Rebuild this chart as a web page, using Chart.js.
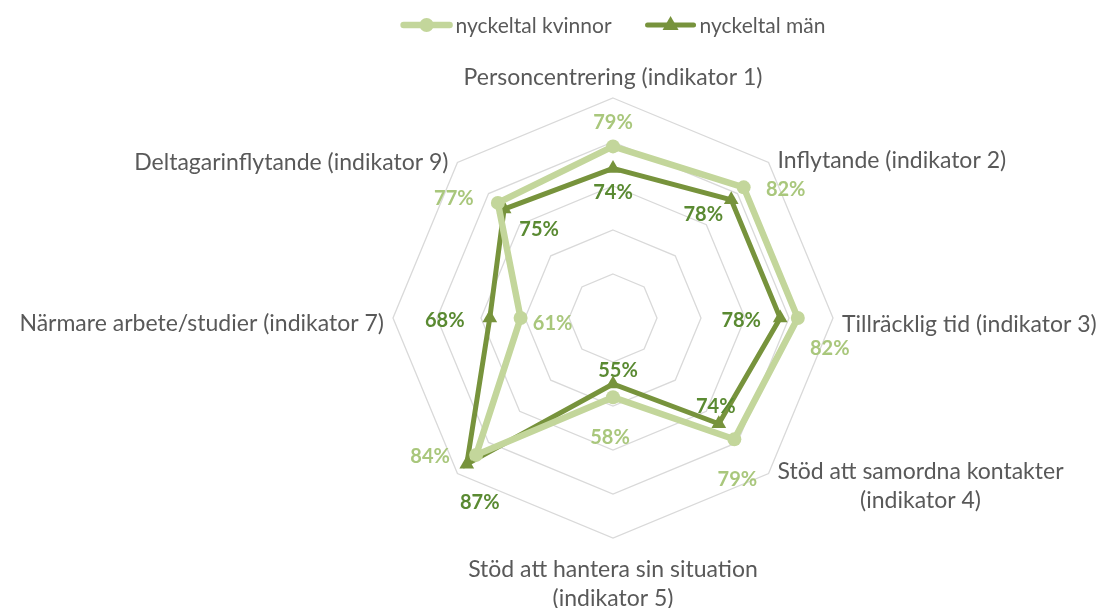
<!DOCTYPE html>
<html>
<head>
<meta charset="utf-8">
<script src="https://cdn.jsdelivr.net/npm/chart.js@4"></script>
<style>
  body { margin: 0; background: #fff; }
  canvas { display: block; }
</style>
</head>
<body>
<canvas id="grafico" width="1102" height="608"></canvas>
<script>
// kategorier (axlar), en axel saknar etikett i originalet
const kategorier = [
  "Personcentrering (indikator 1)",
  "Inflytande (indikator 2)",
  "Tillräcklig tid (indikator 3)",
  ["Stöd att samordna kontakter", "(indikator 4)"],
  ["Stöd att hantera sin situation", "(indikator 5)"],
  "",
  "Närmare arbete/studier (indikator 7)",
  "Deltagarinflytande (indikator 9)"
];
const kvinnor = [79, 82, 82, 79, 58, 84, 61, 77];
const man = [74, 78, 78, 74, 55, 87, 68, 75];
const serieNamn = ["nyckeltal kvinnor", "nyckeltal män"];

// var etiketterna hamnar i förhållande till punkten (px)
const offsetKvinnor = [[0, -24], [42, 2], [32, 31], [3, 40], [-3, 40], [-46, 2], [32, 6], [-44, -4]];
const offsetMan = [[0, 24], [-28, 15], [-39, 3], [-3, -17], [5, -13], [13, 38], [-45, 3], [35, 20]];

const ljusGron = "#c3d69b";
const ljusText = "#a9c77c";
const morkGron = "#77933c";
const morkText = "#5a8a32";

const ctx = document.getElementById("grafico");

// ritar procentetiketter vid punkterna
const etiketter = {
  id: "etiketter",
  afterDatasetsDraw(chart) {
    const c = chart.ctx;
    c.save();
    c.font = "bold 20px Lato";
    c.textAlign = "center";
    c.textBaseline = "middle";
    chart.data.datasets.forEach((ds, i) => {
      const meta = chart.getDatasetMeta(i);
      meta.data.forEach((p, j) => {
        const off = ds.etikettOffset[j];
        c.fillStyle = ds.etikettFarg;
        c.fillText(ds.data[j] + "%", p.x + off[0], p.y + off[1]);
      });
    });
    c.restore();
  }
};

// axeletiketter ritas för hand så att flerradig text centreras som i Excel
const axelText = {
  id: "axelText",
  afterDraw(chart) {
    const c = chart.ctx;
    const scale = chart.scales.r;
    c.save();
    c.font = "23px Lato";
    c.fillStyle = "#595959";
    c.textBaseline = "middle";
    const lh = 29;
    kategorier.forEach((lab, i) => {
      const rader = Array.isArray(lab) ? lab : [lab];
      if (!rader[0]) return;
      const pos = scale.getPointPosition(i, scale.drawingArea);
      const bredd = Math.max(...rader.map(r => c.measureText(r).width));
      let mitt, y;
      if (Math.abs(pos.x - scale.xCenter) < 5) {
        mitt = pos.x;
        if (pos.y < scale.yCenter) y = pos.y - 20 - (rader.length - 1) * lh;
        else y = pos.y + 32;
      } else if (pos.x > scale.xCenter) {
        mitt = pos.x + 9 + bredd / 2;
        y = pos.y + (Math.abs(pos.y - scale.yCenter) < 5 ? 7 : -2);
      } else {
        mitt = pos.x - 9 - bredd / 2;
        y = pos.y + (Math.abs(pos.y - scale.yCenter) < 5 ? 6 : 0);
      }
      c.textAlign = "center";
      rader.forEach((r, k) => c.fillText(r, mitt, y + k * lh));
    });
    c.restore();
  }
};

// förklaring överst
const forklaring = {
  id: "forklaring",
  afterDraw(chart) {
    const c = chart.ctx;
    c.save();
    c.font = "21px Lato";
    c.textBaseline = "middle";
    const y = 25;
    const linje = 52, gap = 3, mellan = 33;
    const w1 = c.measureText(serieNamn[0]).width;
    const w2 = c.measureText(serieNamn[1]).width;
    const total = linje + gap + w1 + mellan + linje + gap + w2;
    let x = chart.scales.r.xCenter - total / 2;
    chart.data.datasets.forEach((ds, i) => {
      c.strokeStyle = ds.borderColor;
      c.fillStyle = ds.borderColor;
      c.lineWidth = ds.borderWidth;
      c.lineCap = "round";
      c.beginPath();
      c.moveTo(x + 3, y);
      c.lineTo(x + linje - 3, y);
      c.stroke();
      const mx = x + linje / 2;
      c.beginPath();
      if (i === 0) {
        c.arc(mx, y, 7, 0, Math.PI * 2);
      } else {
        c.moveTo(mx, y - 9);
        c.lineTo(mx + 8, y + 5);
        c.lineTo(mx - 8, y + 5);
        c.closePath();
      }
      c.fill();
      c.fillStyle = "#595959";
      c.fillText(serieNamn[i], x + linje + gap, y + 1);
      x += linje + gap + (i === 0 ? w1 : w2) + mellan;
    });
    c.restore();
  }
};

new Chart(ctx, {
  type: "radar",
  data: {
    labels: kategorier,
    datasets: [
      {
        label: serieNamn[0],
        data: kvinnor,
        borderColor: ljusGron,
        backgroundColor: ljusGron,
        borderWidth: 6.5,
        pointStyle: "circle",
        pointRadius: 7,
        pointBorderWidth: 0,
        fill: false,
        etikettOffset: offsetKvinnor,
        etikettFarg: ljusText
      },
      {
        label: serieNamn[1],
        data: man,
        borderColor: morkGron,
        backgroundColor: morkGron,
        borderWidth: 5,
        pointStyle: "triangle",
        pointRadius: 8.5,
        pointBorderWidth: 0,
        fill: false,
        etikettOffset: offsetMan,
        etikettFarg: morkText
      }
    ]
  },
  options: {
    responsive: false,
    animation: false,
    layout: { padding: { left: 393, right: 269, top: 98, bottom: 70 } },
    plugins: { legend: { display: false }, tooltip: { enabled: false } },
    elements: { line: { tension: 0 } },
    scales: {
      r: {
        min: 40,
        max: 90,
        ticks: { stepSize: 10, display: false },
        angleLines: { display: false },
        grid: { color: "#d9d9d9", lineWidth: 1.3 },
        pointLabels: { display: false }
      }
    }
  },
  plugins: [etiketter, axelText, forklaring]
});
</script>
</body>
</html>
